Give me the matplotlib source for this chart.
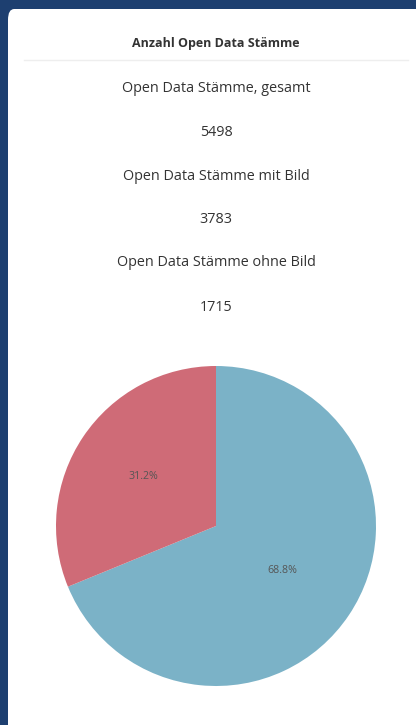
import numpy as np
import matplotlib.pyplot as plt
from matplotlib.patches import FancyBboxPatch
from matplotlib.lines import Line2D

title = "Anzahl Open Data Stämme"
stat_labels = ["Open Data Stämme, gesamt", "Open Data Stämme mit Bild", "Open Data Stämme ohne Bild"]
stat_values = [5498, 3783, 1715]
pie_values = [3783, 1715]
pie_colors = ["#7bb2c7", "#cf6b77"]

W, H = 416, 725
plt.rcParams['font.family'] = ['Open Sans', 'DejaVu Sans']
fig = plt.figure(figsize=(W / 100, H / 100), dpi=100)
fig.patch.set_facecolor("#1d3f70")

# white card behind everything
card = FancyBboxPatch((8 / W, -0.1), 1.2, (H - 9) / H + 0.1,
                      boxstyle="round,pad=0,rounding_size=0.015",
                      transform=fig.transFigure, facecolor="white", edgecolor="none", zorder=-10)
fig.patches.append(card)


def fy(py):
    return 1 - py / H


fig.text(216 / W, fy(44), title, ha="center", va="center", fontsize=9.0,
         fontweight="bold", color="#333333")
fig.add_artist(Line2D([24 / W, 408 / W], [fy(60), fy(60)], color="#eeeeee", lw=1))

ys = [89, 176, 263]
for lab, val, y in zip(stat_labels, stat_values, ys):
    fig.text(216 / W, fy(y), lab, ha="center", va="center", fontsize=10.4, color="#333333")
    fig.text(216 / W, fy(y + 44), str(val), ha="center", va="center", fontsize=10.4, color="#333333")

# pie
cx, cy, r = 216, 526, 160
ax = fig.add_axes([(cx - r) / W, fy(cy + r), 2 * r / W, 2 * r / H])
ax.set_zorder(5)
ax.patch.set_alpha(0)
wedges, texts, autotexts = ax.pie(pie_values, colors=pie_colors, startangle=90, counterclock=False,
                                  autopct="%1.1f%%", pctdistance=0.5,
                                  textprops=dict(fontsize=7.7, color="#555555"))
# label distance from centre differs per slice in the reference
for w, t, d in zip(wedges, autotexts, [0.5, 0.55]):
    ang = np.deg2rad((w.theta1 + w.theta2) / 2)
    t.set_position((d * np.cos(ang), d * np.sin(ang)))
ax.set_aspect("equal")
ax.set_xlim(-1, 1)
ax.set_ylim(-1, 1)

fig.savefig("out.png", dpi=100, facecolor=fig.get_facecolor())
